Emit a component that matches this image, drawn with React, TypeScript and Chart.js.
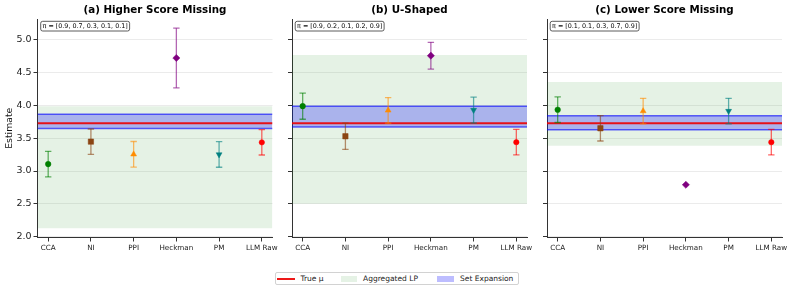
import React, { useEffect, useRef } from 'react';
import { Chart, registerables } from 'chart.js';

Chart.register(...registerables);
Chart.defaults.font.family = 'DejaVu Sans';

// ---------- data ----------
const methods = ['CCA', 'NI', 'PPI', 'Heckman', 'PM', 'LLM Raw'];
const xTickValues = [0, 1, 2, 3, 4, 5];
const yTickValues = [2.0, 2.5, 3.0, 3.5, 4.0, 4.5, 5.0];
const trueMu = 3.73;

const panelTitles = ['(a) Higher Score Missing', '(b) U-Shaped', '(c) Lower Score Missing'];
const piLabels = ['π = [0.9, 0.7, 0.3, 0.1, 0.1]', 'π = [0.9, 0.2, 0.1, 0.2, 0.9]', 'π = [0.1, 0.1, 0.3, 0.7, 0.9]'];

const estimatesA = [3.105, 3.448, 3.255, 4.725, 3.252, 3.437];
const errorsA = [0.196, 0.193, 0.195, 0.455, 0.195, 0.193];
const estimatesB = [3.99, 3.53, 3.925, 4.76, 3.93, 3.44];
const errorsB = [0.2, 0.2, 0.195, 0.204, 0.197, 0.195];
const estimatesC = [3.935, 3.652, 3.915, 2.79, 3.915, 3.44];
const errorsC = [0.195, 0.194, 0.195, null, 0.195, 0.195];

const lpLowA = 2.125, lpHighA = 3.99;
const lpLowB = 2.5, lpHighB = 4.77;
const lpLowC = 3.385, lpHighC = 4.36;
const seLowA = 3.65, seHighA = 3.865;
const seLowB = 3.67, seHighB = 3.99;
const seLowC = 3.63, seHighC = 3.845;

const legendLabels = ['True μ', 'Aggregated LP', 'Set Expansion'];

// ---------- styles ----------
const methodColors = ['0,128,0', '139,69,19', '255,140,0', '128,0,128', '0,128,128', '255,0,0'];
const methodMarkers = ['circle', 'rect', 'triangle', 'rectRot', 'triangle', 'circle'];
const markerRotation = [0, 0, 0, 0, 180, 0];
const markerRadius = [2.8, 3.8, 3.4, 3.6, 3.4, 2.7];

const panels = [
  { est: estimatesA, err: errorsA, lp: [lpLowA, lpHighA], se: [seLowA, seHighA] },
  { est: estimatesB, err: errorsB, lp: [lpLowB, lpHighB], se: [seLowB, seHighB] },
  { est: estimatesC, err: errorsC, lp: [lpLowC, lpHighC], se: [seLowC, seHighC] },
];

const layouts = [
  { left: 0, width: 282, yAxisWidth: 37.5, padLeft: 0, padRight: 9.5, labels: true },
  { left: 282, width: 253, yAxisWidth: 4, padLeft: 6, padRight: 8, labels: false },
  { left: 535, width: 258, yAxisWidth: 4, padLeft: 8, padRight: 11, labels: false },
];

const CANVAS_H = 262;
const X_MIN = -0.25, X_MAX = 5.25;

const decorPlugin = {
  id: 'panelDecor',
  afterDraw(chart: any, _args: any, opts: any) {
    const { ctx, chartArea } = chart;
    ctx.save();
    // title
    ctx.font = 'bold 10.3px "DejaVu Sans"';
    ctx.fillStyle = '#000';
    ctx.textAlign = 'center';
    ctx.textBaseline = 'middle';
    ctx.fillText(opts.title, (chartArea.left + chartArea.right) / 2, 10.3);
    // pi annotation
    ctx.font = '6.4px "DejaVu Sans"';
    const w = ctx.measureText(opts.pi).width;
    const bx = chartArea.left + 3.2, by = 21.3, bw = w + 3.6, bh = 9.7;
    ctx.beginPath();
    if (ctx.roundRect) ctx.roundRect(bx, by, bw, bh, 2);
    else ctx.rect(bx, by, bw, bh);
    ctx.fillStyle = 'rgba(255,255,255,0.85)';
    ctx.fill();
    ctx.lineWidth = 0.8;
    ctx.strokeStyle = '#333';
    ctx.stroke();
    ctx.fillStyle = '#000';
    ctx.textAlign = 'left';
    ctx.textBaseline = 'middle';
    ctx.fillText(opts.pi, bx + 1.8, by + bh / 2 + 0.3);
    ctx.restore();
  },
};

function Panel({ index }: { index: number }) {
  const ref = useRef<HTMLCanvasElement>(null);
  useEffect(() => {
    const p = panels[index];
    const L = layouts[index];
    const hline = (y: number) => [{ x: X_MIN, y }, { x: X_MAX, y }];
    const datasets: any[] = [];
    datasets.push({ data: hline(p.lp[0]), borderWidth: 0, borderColor: 'rgba(0,0,0,0)', pointRadius: 0, fill: false, order: 10 });
    datasets.push({ data: hline(p.lp[1]), borderWidth: 0, borderColor: 'rgba(0,0,0,0)', pointRadius: 0, fill: '-1', backgroundColor: 'rgba(0,128,0,0.1)', order: 10 });
    datasets.push({ data: hline(p.se[0]), borderWidth: 1.5, borderColor: 'rgba(0,0,255,0.6)', pointRadius: 0, fill: false, order: 9 });
    datasets.push({ data: hline(p.se[1]), borderWidth: 1.5, borderColor: 'rgba(0,0,255,0.6)', pointRadius: 0, fill: '-1', backgroundColor: 'rgba(0,0,255,0.26)', order: 9 });
    datasets.push({ data: hline(trueMu), borderWidth: 2, borderColor: 'rgba(235,0,0,0.9)', pointRadius: 0, fill: false, order: 8 });
    methods.forEach((_m, i) => {
      const e = p.err[i];
      const c = methodColors[i];
      if (e != null) {
        datasets.push({
          data: [{ x: i, y: p.est[i] - e }, { x: i, y: p.est[i] + e }],
          borderColor: `rgba(${c},0.6)`, borderWidth: 1.3,
          pointStyle: 'line', pointRadius: 3.2, pointBorderColor: `rgba(${c},0.6)`, pointBorderWidth: 1.3,
          fill: false, order: 7,
        });
      }
      datasets.push({
        data: [{ x: i, y: p.est[i] }],
        showLine: false,
        pointStyle: methodMarkers[i], pointRadius: markerRadius[i], pointRotation: markerRotation[i],
        pointBackgroundColor: `rgb(${c})`, pointBorderColor: `rgb(${c})`, pointBorderWidth: 0.5,
        order: 6,
      });
    });

    const chart = new Chart(ref.current as HTMLCanvasElement, {
      type: 'line',
      data: { datasets },
      plugins: [decorPlugin],
      options: {
        responsive: false,
        animation: false,
        devicePixelRatio: 1,
        layout: { padding: { left: L.padLeft, right: L.padRight, top: 19, bottom: 8.5 } },
        plugins: {
          legend: { display: false },
          tooltip: { enabled: false },
          panelDecor: { title: panelTitles[index], pi: piLabels[index] },
        } as any,
        scales: {
          x: {
            type: 'linear', min: X_MIN, max: X_MAX,
            afterBuildTicks: (s: any) => { s.ticks = xTickValues.map((v) => ({ value: v })); },
            ticks: {
              callback: (v: any) => methods[Math.round(Number(v))] ?? '',
              font: { size: 7.2 }, color: '#222', padding: 2, maxRotation: 0, autoSkip: false,
            },
            grid: { drawOnChartArea: false, tickLength: 4, tickColor: '#333', tickWidth: 1 },
            border: { color: '#333', width: 1 },
            afterFit: (s: any) => { s.height = 16; s.paddingLeft = 0; s.paddingRight = 0; },
          },
          y: {
            type: 'linear', min: 1.985, max: 5.32,
            afterBuildTicks: (s: any) => { s.ticks = yTickValues.map((v) => ({ value: v })); },
            ticks: {
              display: L.labels,
              callback: (v: any) => Number(v).toFixed(1),
              font: { size: 9.5 }, color: '#222', padding: 2,
            },
            grid: { color: 'rgba(0,0,0,0.08)', tickColor: '#333', tickLength: 4, lineWidth: 1 },
            border: { color: '#333', width: 1 },
            title: { display: L.labels, text: 'Estimate', font: { size: 9.3 }, color: '#111', padding: { top: 4, bottom: 0 } },
            afterFit: (s: any) => { s.width = L.yAxisWidth; s.paddingTop = 0; s.paddingBottom = 0; },
          },
        },
      } as any,
    });
    return () => chart.destroy();
  }, [index]);
  const L = layouts[index];
  return (
    <div style={{ position: 'absolute', left: L.left, top: 0, width: L.width, height: CANVAS_H }}>
      <canvas ref={ref} width={L.width} height={CANVAS_H} style={{ display: 'block' }} />
    </div>
  );
}

function Legend() {
  const text: React.CSSProperties = { position: 'absolute', top: 0, lineHeight: '11px', fontSize: '7.5px', whiteSpace: 'nowrap', color: '#222' };
  return (
    <div style={{
      position: 'absolute', left: 275, top: 272, width: 244, height: 13, boxSizing: 'border-box',
      border: '1px solid #d2d2d2', borderRadius: 2, fontFamily: '"DejaVu Sans"', background: '#fff',
    }}>
      <div style={{ position: 'absolute', left: 1, top: 4.5, width: 18, height: 2, background: 'rgba(235,0,0,0.9)' }} />
      <span style={{ ...text, left: 24.5 }}>{legendLabels[0]}</span>
      <div style={{ position: 'absolute', left: 64.5, top: 2.5, width: 16.5, height: 6, background: 'rgba(0,128,0,0.1)' }} />
      <span style={{ ...text, left: 87 }}>{legendLabels[1]}</span>
      <div style={{ position: 'absolute', left: 161, top: 2.5, width: 16.5, height: 6, background: 'rgba(0,0,255,0.26)' }} />
      <span style={{ ...text, left: 184 }}>{legendLabels[2]}</span>
    </div>
  );
}

export default function App() {
  return (
    <div style={{ position: 'absolute', left: 0, top: 0, width: 793, height: 291, background: '#fff', overflow: 'hidden' }}>
      <Panel index={0} />
      <Panel index={1} />
      <Panel index={2} />
      <Legend />
    </div>
  );
}
